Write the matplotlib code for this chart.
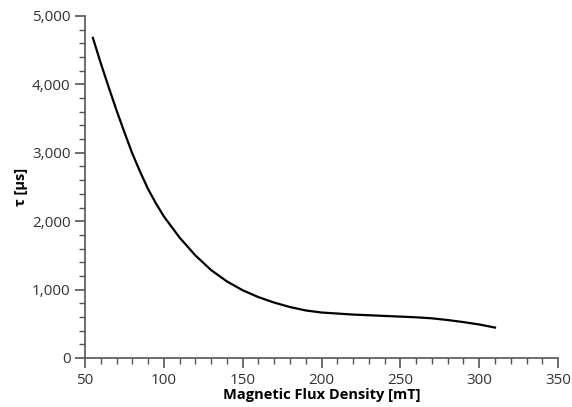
import matplotlib
matplotlib.use("Agg")
import matplotlib.pyplot as plt
from matplotlib.ticker import MultipleLocator, FuncFormatter

plt.rcParams['font.family'] = ['Open Sans', 'DejaVu Sans']

# relaxation time vs. field
field_mT = [55, 60, 65, 70, 75, 80, 85, 90, 95, 100, 110, 120, 130, 140, 150,
            160, 170, 180, 190, 200, 210, 220, 230, 240, 250, 260, 270, 280,
            290, 300, 310]
tau_us = [4680, 4310, 3960, 3620, 3300, 2990, 2720, 2470, 2260, 2070, 1760,
          1500, 1285, 1120, 990, 890, 810, 745, 695, 665, 650, 635, 625, 615,
          605, 595, 580, 555, 525, 490, 445]

fig = plt.figure(figsize=(5.72, 4.07), dpi=100)
ax = fig.add_axes([0.1486, 0.1204, 0.827, 0.8403])

ax.plot(field_mT, tau_us, color='black', linewidth=1.6)

ax.set_xlim(50, 350)
ax.set_ylim(0, 5000)
ax.xaxis.set_major_locator(MultipleLocator(50))
ax.xaxis.set_minor_locator(MultipleLocator(10))
ax.yaxis.set_major_locator(MultipleLocator(1000))
ax.yaxis.set_minor_locator(MultipleLocator(200))
ax.yaxis.set_major_formatter(FuncFormatter(lambda v, p: f"{int(v):,}"))

for side in ('top', 'right'):
    ax.spines[side].set_visible(False)
for side in ('left', 'bottom'):
    ax.spines[side].set_color('#555555')
    ax.spines[side].set_linewidth(1.2)

ax.tick_params(which='major', length=7, width=1.2, color='#555555',
               labelsize=11, labelcolor='#333333')
ax.tick_params(which='minor', length=4, width=1.0, color='#555555')

ax.set_xlabel('Magnetic Flux Density [mT]', fontsize=10.5, fontweight='bold',
              labelpad=0)
ax.set_ylabel('τ [μs]', fontsize=10.5, fontweight='bold', labelpad=3)

fig.savefig('out.png', dpi=100)
